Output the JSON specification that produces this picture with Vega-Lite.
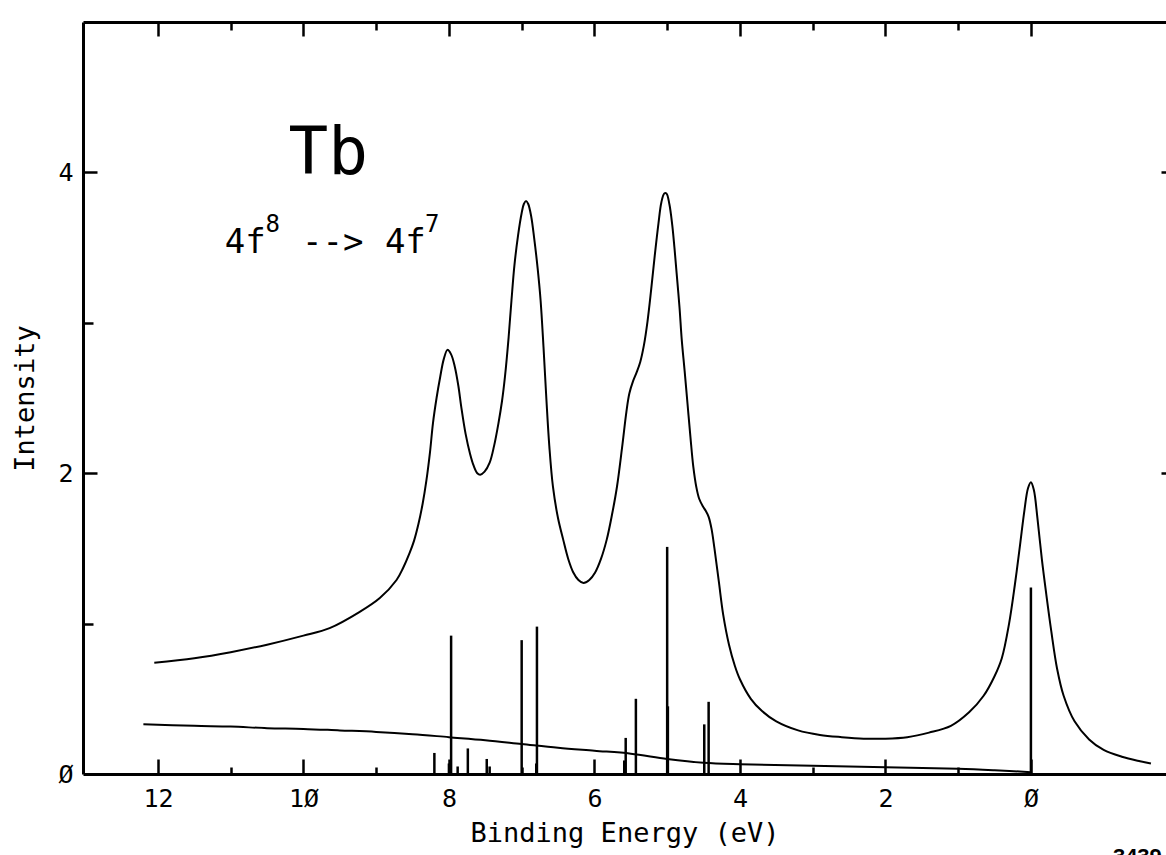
{
  "$schema": "https://vega.github.io/schema/vega-lite/v6.json",
  "autosize": "none",
  "width": 1083,
  "height": 752,
  "padding": {"left": 83, "top": 22, "right": 0, "bottom": 81},
  "background": "white",
  "config": {
    "view": {"stroke": null},
    "axis": {"grid": false, "tickColor": "black", "domainColor": "black", "labelColor": "black", "titleColor": "black", "tickWidth": 2.5, "domainWidth": 3, "labelFont": "DejaVu Sans Mono", "titleFont": "DejaVu Sans Mono", "labelFlush": false, "labelOverlap": false, "titleFontWeight": "normal"}
  },
  "datasets": {
    "spectrum": [
      {"e": 12.05, "i": 0.74}, {"e": 11.5, "i": 0.77}, {"e": 11.0, "i": 0.81}, {"e": 10.5, "i": 0.86},
      {"e": 10.0, "i": 0.92}, {"e": 9.64, "i": 0.97}, {"e": 9.22, "i": 1.08}, {"e": 8.95, "i": 1.17},
      {"e": 8.72, "i": 1.29}, {"e": 8.63, "i": 1.37}, {"e": 8.54, "i": 1.47}, {"e": 8.48, "i": 1.55},
      {"e": 8.42, "i": 1.66}, {"e": 8.36, "i": 1.8}, {"e": 8.31, "i": 1.95}, {"e": 8.26, "i": 2.14},
      {"e": 8.22, "i": 2.33}, {"e": 8.17, "i": 2.5}, {"e": 8.12, "i": 2.64}, {"e": 8.07, "i": 2.76},
      {"e": 8.02, "i": 2.82}, {"e": 7.97, "i": 2.79}, {"e": 7.92, "i": 2.71}, {"e": 7.87, "i": 2.58},
      {"e": 7.83, "i": 2.44}, {"e": 7.77, "i": 2.26}, {"e": 7.71, "i": 2.13}, {"e": 7.66, "i": 2.05},
      {"e": 7.61, "i": 2.0}, {"e": 7.57, "i": 1.99}, {"e": 7.51, "i": 2.01}, {"e": 7.44, "i": 2.07},
      {"e": 7.38, "i": 2.18}, {"e": 7.32, "i": 2.33}, {"e": 7.27, "i": 2.48}, {"e": 7.23, "i": 2.64},
      {"e": 7.18, "i": 2.9}, {"e": 7.14, "i": 3.15}, {"e": 7.1, "i": 3.38}, {"e": 7.05, "i": 3.58},
      {"e": 7.0, "i": 3.73}, {"e": 6.97, "i": 3.79}, {"e": 6.94, "i": 3.81}, {"e": 6.91, "i": 3.79},
      {"e": 6.87, "i": 3.71}, {"e": 6.83, "i": 3.57}, {"e": 6.78, "i": 3.36}, {"e": 6.74, "i": 3.15},
      {"e": 6.7, "i": 2.84}, {"e": 6.66, "i": 2.49}, {"e": 6.62, "i": 2.18}, {"e": 6.57, "i": 1.91},
      {"e": 6.5, "i": 1.7}, {"e": 6.43, "i": 1.56}, {"e": 6.36, "i": 1.43}, {"e": 6.29, "i": 1.34},
      {"e": 6.22, "i": 1.29}, {"e": 6.15, "i": 1.27}, {"e": 6.07, "i": 1.29}, {"e": 5.99, "i": 1.34},
      {"e": 5.91, "i": 1.43}, {"e": 5.83, "i": 1.56}, {"e": 5.76, "i": 1.72}, {"e": 5.69, "i": 1.91},
      {"e": 5.62, "i": 2.17}, {"e": 5.56, "i": 2.41}, {"e": 5.52, "i": 2.53}, {"e": 5.47, "i": 2.61},
      {"e": 5.42, "i": 2.67}, {"e": 5.37, "i": 2.74}, {"e": 5.32, "i": 2.85}, {"e": 5.27, "i": 3.01},
      {"e": 5.22, "i": 3.22}, {"e": 5.17, "i": 3.45}, {"e": 5.12, "i": 3.66}, {"e": 5.08, "i": 3.8},
      {"e": 5.04, "i": 3.86}, {"e": 5.01, "i": 3.86}, {"e": 4.97, "i": 3.79}, {"e": 4.93, "i": 3.65},
      {"e": 4.9, "i": 3.5}, {"e": 4.87, "i": 3.33}, {"e": 4.83, "i": 3.1}, {"e": 4.8, "i": 2.89},
      {"e": 4.76, "i": 2.68}, {"e": 4.72, "i": 2.46}, {"e": 4.68, "i": 2.24}, {"e": 4.64, "i": 2.04},
      {"e": 4.6, "i": 1.91}, {"e": 4.56, "i": 1.83}, {"e": 4.51, "i": 1.78}, {"e": 4.47, "i": 1.75},
      {"e": 4.43, "i": 1.71}, {"e": 4.39, "i": 1.63}, {"e": 4.35, "i": 1.5}, {"e": 4.29, "i": 1.28},
      {"e": 4.23, "i": 1.06}, {"e": 4.15, "i": 0.86}, {"e": 4.07, "i": 0.72},
      {"e": 4.0, "i": 0.63}, {"e": 3.85, "i": 0.5}, {"e": 3.7, "i": 0.42}, {"e": 3.5, "i": 0.35},
      {"e": 3.2, "i": 0.29}, {"e": 2.9, "i": 0.26}, {"e": 2.6, "i": 0.245}, {"e": 2.3, "i": 0.235},
      {"e": 2.0, "i": 0.235}, {"e": 1.7, "i": 0.245}, {"e": 1.4, "i": 0.275}, {"e": 1.1, "i": 0.32},
      {"e": 0.85, "i": 0.41}, {"e": 0.65, "i": 0.52}, {"e": 0.5, "i": 0.65}, {"e": 0.4, "i": 0.77},
      {"e": 0.3, "i": 1.0}, {"e": 0.22, "i": 1.26}, {"e": 0.15, "i": 1.52}, {"e": 0.09, "i": 1.75},
      {"e": 0.04, "i": 1.9}, {"e": 0.0, "i": 1.94}, {"e": -0.04, "i": 1.89}, {"e": -0.09, "i": 1.7},
      {"e": -0.15, "i": 1.43}, {"e": -0.21, "i": 1.2}, {"e": -0.28, "i": 0.95}, {"e": -0.36, "i": 0.7},
      {"e": -0.45, "i": 0.52}, {"e": -0.6, "i": 0.35}, {"e": -0.8, "i": 0.23}, {"e": -1.0, "i": 0.16},
      {"e": -1.25, "i": 0.115}, {"e": -1.5, "i": 0.085}, {"e": -1.65, "i": 0.07}
    ],
    "background": [
      {"e": 12.2, "i": 0.33}, {"e": 11.5, "i": 0.32}, {"e": 11.0, "i": 0.315}, {"e": 10.5, "i": 0.305},
      {"e": 10.0, "i": 0.3}, {"e": 9.5, "i": 0.29}, {"e": 9.0, "i": 0.28}, {"e": 8.5, "i": 0.265},
      {"e": 8.0, "i": 0.245}, {"e": 7.5, "i": 0.225}, {"e": 7.0, "i": 0.2}, {"e": 6.5, "i": 0.175},
      {"e": 6.0, "i": 0.155}, {"e": 5.5, "i": 0.135}, {"e": 5.0, "i": 0.1}, {"e": 4.5, "i": 0.075},
      {"e": 4.0, "i": 0.065}, {"e": 3.0, "i": 0.055}, {"e": 2.0, "i": 0.045}, {"e": 1.0, "i": 0.035},
      {"e": 0.5, "i": 0.025}, {"e": 0.0, "i": 0.012}
    ],
    "sticks": [
      {"e": 8.2, "h": 0.14}, {"e": 8.0, "h": 0.07}, {"e": 7.97, "h": 0.92}, {"e": 7.88, "h": 0.05},
      {"e": 7.74, "h": 0.17}, {"e": 7.48, "h": 0.1}, {"e": 7.44, "h": 0.05}, {"e": 7.0, "h": 0.89},
      {"e": 6.8, "h": 0.07}, {"e": 6.79, "h": 0.98}, {"e": 5.59, "h": 0.09}, {"e": 5.57, "h": 0.24},
      {"e": 5.43, "h": 0.5}, {"e": 5.0, "h": 1.51}, {"e": 4.99, "h": 0.45}, {"e": 4.49, "h": 0.33},
      {"e": 4.43, "h": 0.48}, {"e": 0.0, "h": 1.24}
    ]
  },
  "resolve": {"axis": {"x": "independent", "y": "independent"}},
  "layer": [
    {
      "data": {"name": "spectrum"},
      "mark": {"type": "line", "color": "black", "strokeWidth": 2, "interpolate": "catmull-rom"},
      "encoding": {
        "x": {"field": "e", "type": "quantitative", "scale": {"domain": [13.03, -1.857], "nice": false, "zero": false},
          "axis": {"orient": "bottom", "values": [12, 10, 8, 6, 4, 2, 0], "ticks": false, "domain": true, "labelFontSize": 25, "labelPadding": 12,
            "labelExpr": "datum.value == 0 ? 'Ø' : datum.value == 10 ? '1Ø' : datum.label",
            "title": "Binding Energy (eV)", "titleFontSize": 27, "titlePadding": 9}},
        "y": {"field": "i", "type": "quantitative", "scale": {"domain": [0, 5], "nice": false, "zero": false},
          "axis": {"orient": "left", "values": [0, 2, 4], "ticks": false, "domain": true, "labelFontSize": 25, "labelPadding": 10,
            "labelExpr": "datum.value == 0 ? 'Ø' : datum.label",
            "title": "Intensity", "titleFontSize": 27, "titlePadding": 18}}
      }
    },
    {
      "data": {"name": "background"},
      "mark": {"type": "line", "color": "black", "strokeWidth": 2, "interpolate": "catmull-rom"},
      "encoding": {
        "x": {"field": "e", "type": "quantitative", "scale": {"domain": [13.03, -1.857], "nice": false, "zero": false},
          "axis": {"orient": "bottom", "values": [12, 10, 8, 6, 4, 2, 0], "labels": false, "domain": false, "title": null, "tickSize": -15}},
        "y": {"field": "i", "type": "quantitative", "scale": {"domain": [0, 5], "nice": false, "zero": false},
          "axis": {"orient": "left", "values": [2, 4], "labels": false, "domain": false, "title": null, "tickSize": -14}}
      }
    },
    {
      "data": {"name": "sticks"},
      "mark": {"type": "rule", "color": "black", "strokeWidth": 2.5},
      "encoding": {
        "x": {"field": "e", "type": "quantitative", "scale": {"domain": [13.03, -1.857], "nice": false, "zero": false},
          "axis": {"orient": "bottom", "values": [11, 9, 7, 5, 3, 1], "labels": false, "domain": false, "title": null, "tickSize": -7}},
        "y": {"field": "h", "type": "quantitative", "scale": {"domain": [0, 5], "nice": false, "zero": false},
          "axis": {"orient": "left", "values": [1, 3], "labels": false, "domain": false, "title": null, "tickSize": -10}},
        "y2": {"datum": 0}
      }
    },
    {
      "data": {"values": [{"t": "Tb", "x": 9.66, "y": 3.99}]},
      "mark": {"type": "text", "font": "DejaVu Sans Mono", "fontSize": 66, "align": "center", "baseline": "alphabetic", "color": "black"},
      "encoding": {
        "x": {"field": "x", "type": "quantitative", "scale": {"domain": [13.03, -1.857], "nice": false, "zero": false},
          "axis": {"orient": "top", "values": [12, 10, 8, 6, 4, 2, 0], "labels": false, "domain": true, "title": null, "tickSize": -14}},
        "y": {"field": "y", "type": "quantitative", "scale": {"domain": [0, 5], "nice": false, "zero": false},
          "axis": {"orient": "right", "values": [2, 4], "labels": false, "domain": false, "title": null, "tickSize": -5}},
        "text": {"field": "t"}
      }
    },
    {
      "data": {"values": [{"t": "4f", "x": 11.08, "y": 3.464}, {"t": "-->", "x": 10.02, "y": 3.464}, {"t": "4f", "x": 8.88, "y": 3.464}]},
      "mark": {"type": "text", "font": "DejaVu Sans Mono", "fontSize": 34, "align": "left", "baseline": "alphabetic", "color": "black"},
      "encoding": {
        "x": {"field": "x", "type": "quantitative", "scale": {"domain": [13.03, -1.857], "nice": false, "zero": false},
          "axis": {"orient": "top", "values": [11, 9, 7, 5, 3, 1], "labels": false, "domain": false, "title": null, "tickSize": -8}},
        "y": {"field": "y", "type": "quantitative", "scale": {"domain": [0, 5], "nice": false, "zero": false}, "axis": null},
        "text": {"field": "t"}
      }
    },
    {
      "data": {"values": [{"t": "8", "x": 10.52, "y": 3.606}, {"t": "7", "x": 8.33, "y": 3.606}]},
      "mark": {"type": "text", "font": "DejaVu Sans Mono", "fontSize": 24, "align": "left", "baseline": "alphabetic", "color": "black"},
      "encoding": {
        "x": {"field": "x", "type": "quantitative", "scale": {"domain": [13.03, -1.857], "nice": false, "zero": false}, "axis": null},
        "y": {"field": "y", "type": "quantitative", "scale": {"domain": [0, 5], "nice": false, "zero": false}, "axis": null},
        "text": {"field": "t"}
      }
    },
    {
      "data": {"values": [{"t": "3439", "x": -1.127, "y": -0.483}]},
      "mark": {"type": "text", "font": "Liberation Sans", "fontSize": 22, "fontWeight": "bold", "align": "left", "baseline": "top", "color": "black"},
      "encoding": {
        "x": {"field": "x", "type": "quantitative", "scale": {"domain": [13.03, -1.857], "nice": false, "zero": false}, "axis": null},
        "y": {"field": "y", "type": "quantitative", "scale": {"domain": [0, 5], "nice": false, "zero": false}, "axis": null},
        "text": {"field": "t"}
      }
    }
  ]
}
